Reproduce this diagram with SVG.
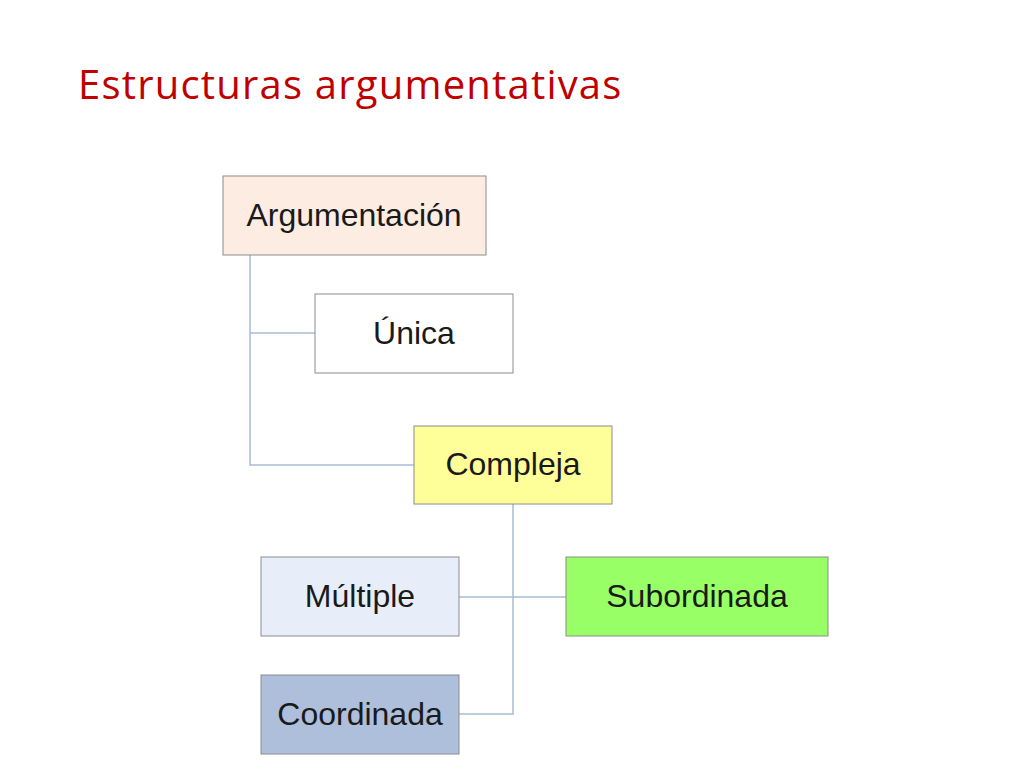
<svg xmlns="http://www.w3.org/2000/svg" width="1024" height="768" viewBox="0 0 1024 768">
<style>
.n{stroke:#8c8c8c;stroke-width:1}
.t{font-family:"Liberation Sans",Arial,sans-serif;font-size:32px;fill:#1a1a1a;text-anchor:middle}
.c{fill:none;stroke:#a9bcd6;stroke-width:1.5}
</style>
<rect width="1024" height="768" fill="#fff"/>
<text x="78" y="99" font-family="'Open Sans','DejaVu Sans',sans-serif" font-size="40" letter-spacing="1.2" fill="#c00000">Estructuras argumentativas</text>
<g id="connectors">
<path class="c" d="M250 255V465H414M250 333H315"/>
<path class="c" d="M513 504V714H459M459 597H566"/>
</g>
<g id="argumentacion"><rect class="n" x="223" y="176" width="263" height="79" fill="#fcece2"/><text class="t" x="354" y="226">Argumentación</text></g>
<g id="unica"><rect class="n" x="315" y="294" width="198" height="79" fill="#fff"/><text class="t" x="414" y="344">Única</text></g>
<g id="compleja"><rect class="n" x="414" y="426" width="198" height="78" fill="#ffff99"/><text class="t" x="513" y="475">Compleja</text></g>
<g id="multiple"><rect class="n" x="261" y="557" width="198" height="79" fill="#e7eef9"/><text class="t" x="360" y="607">Múltiple</text></g>
<g id="subordinada"><rect class="n" x="566" y="557" width="262" height="79" fill="#99ff66"/><text class="t" x="697" y="607">Subordinada</text></g>
<g id="coordinada"><rect class="n" x="261" y="675" width="198" height="79" fill="#adbfdb"/><text class="t" x="360" y="725">Coordinada</text></g>
</svg>
